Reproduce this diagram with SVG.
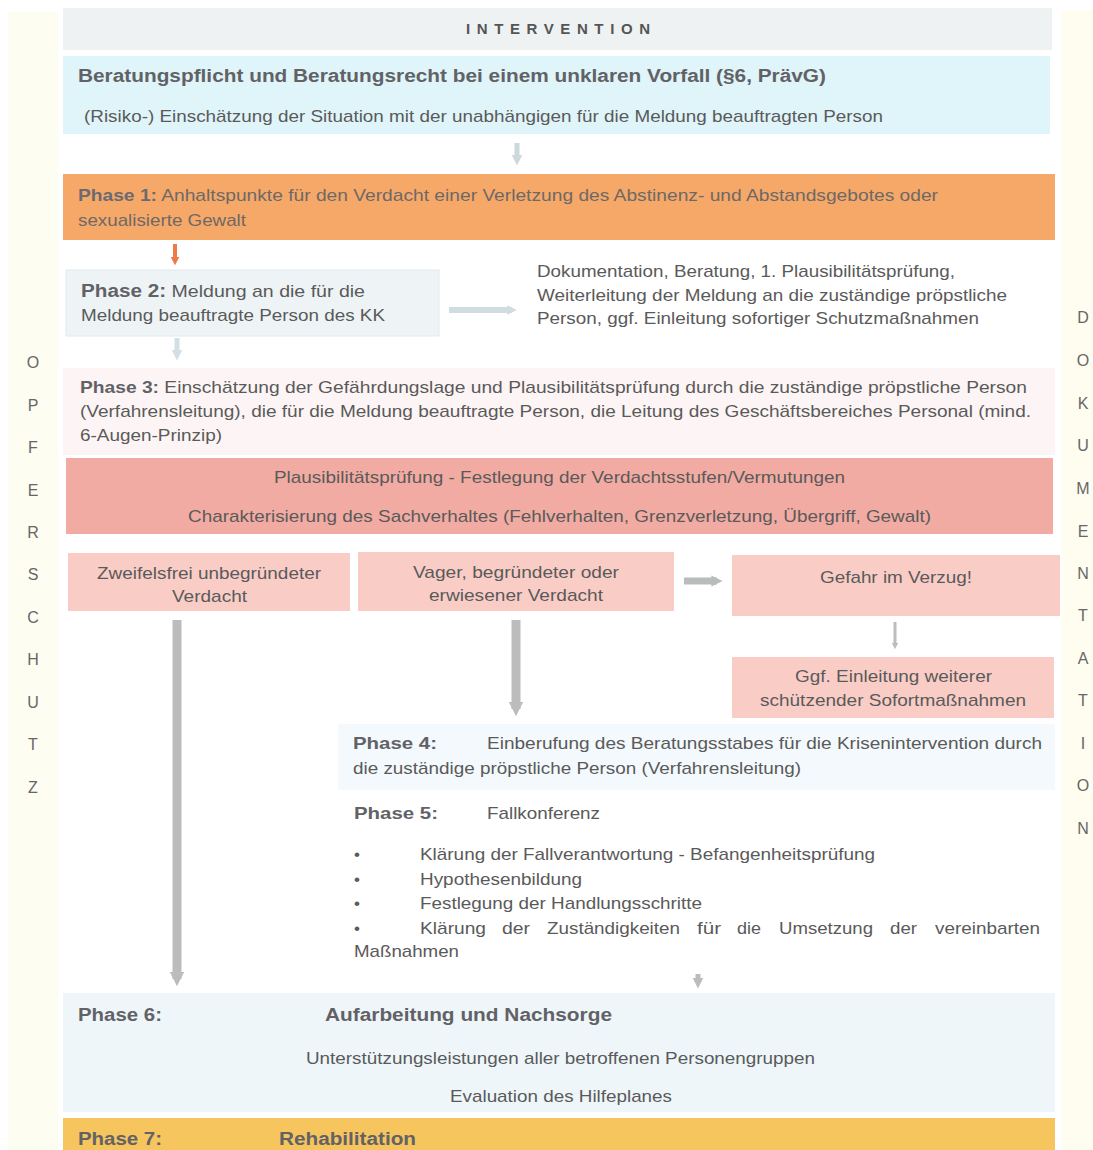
<svg xmlns="http://www.w3.org/2000/svg" width="1093" height="1150" viewBox="0 0 1093 1150">
<style>
text{font-family:"Liberation Sans",Arial,sans-serif;fill:#5a5a5a;font-size:17px}
.b{font-weight:bold;fill:#626266}
.side{font-size:16px;fill:#666;text-anchor:middle}
.pink{fill:#f9cdc6}
</style>
<defs>
<marker id="ah" viewBox="0 0 10 10" refX="5" refY="5" markerWidth="2.2" markerHeight="2.2" orient="auto" markerUnits="strokeWidth">
<path d="M0,0 L10,5 L0,10 z" fill="context-stroke"/>
</marker>
<marker id="ahw" viewBox="0 0 10 10" refX="5" refY="5" markerWidth="1.6" markerHeight="1.6" orient="auto" markerUnits="strokeWidth">
<path d="M0,0 L10,5 L0,10 z" fill="context-stroke"/>
</marker>
</defs>
<rect width="1093" height="1150" fill="#ffffff"/>
<g id="side-left">
<rect x="8" y="12" width="50" height="1138" fill="#fefdf2"/>
<text class="side" x="33" y="368">O</text>
<text class="side" x="33" y="411">P</text>
<text class="side" x="33" y="453">F</text>
<text class="side" x="33" y="496">E</text>
<text class="side" x="33" y="538">R</text>
<text class="side" x="33" y="580">S</text>
<text class="side" x="33" y="623">C</text>
<text class="side" x="33" y="665">H</text>
<text class="side" x="33" y="708">U</text>
<text class="side" x="33" y="750">T</text>
<text class="side" x="33" y="793">Z</text>
</g>
<g id="side-right">
<rect x="1062" y="10" width="31" height="1140" fill="#fefdf0"/>
<text class="side" x="1083" y="323">D</text>
<text class="side" x="1083" y="366">O</text>
<text class="side" x="1083" y="409">K</text>
<text class="side" x="1083" y="451">U</text>
<text class="side" x="1083" y="494">M</text>
<text class="side" x="1083" y="537">E</text>
<text class="side" x="1083" y="579">N</text>
<text class="side" x="1083" y="621">T</text>
<text class="side" x="1083" y="664">A</text>
<text class="side" x="1083" y="706">T</text>
<text class="side" x="1083" y="749">I</text>
<text class="side" x="1083" y="791">O</text>
<text class="side" x="1083" y="834">N</text>
</g>
<g id="header">
<rect x="63" y="8" width="989" height="42" fill="#eef2f3"/>
<text x="466" y="34" class="b" style="font-size:15px;fill:#555" textLength="184">INTERVENTION</text>
</g>
<g id="beratung">
<rect x="63" y="56" width="987" height="78" fill="#dff5fa"/>
<text x="78" y="82" class="b" style="font-size:18px" textLength="748" lengthAdjust="spacingAndGlyphs">Beratungspflicht und Beratungsrecht bei einem unklaren Vorfall (§6, PrävG)</text>
<text x="84" y="122" textLength="799" lengthAdjust="spacingAndGlyphs">(Risiko-) Einschätzung der Situation mit der unabhängigen für die Meldung beauftragten Person</text>
</g>
<g id="phase1">
<rect x="63" y="174" width="992" height="66" fill="#f6a868"/>
<text x="78" y="201" style="fill:#6e6866" textLength="860" lengthAdjust="spacingAndGlyphs"><tspan class="b" style="fill:#6a6a70">Phase 1:</tspan> Anhaltspunkte für den Verdacht einer Verletzung des Abstinenz- und Abstandsgebotes oder</text>
<text x="78" y="226" style="fill:#6e6866" textLength="168" lengthAdjust="spacingAndGlyphs">sexualisierte Gewalt</text>
</g>
<g id="phase2">
<rect x="66" y="270" width="373" height="66" fill="#eef4f6" stroke="#e2eaee" stroke-width="1"/>
<text x="81" y="297" textLength="284" lengthAdjust="spacingAndGlyphs"><tspan class="b" style="font-size:18px">Phase 2:</tspan>  Meldung an die für die</text>
<text x="81" y="321" textLength="304" lengthAdjust="spacingAndGlyphs">Meldung beauftragte Person des KK</text>
</g>
<g id="dokumentation">
<text x="537" y="277" textLength="418" lengthAdjust="spacingAndGlyphs">Dokumentation, Beratung, 1. Plausibilitätsprüfung,</text>
<text x="537" y="301" textLength="470" lengthAdjust="spacingAndGlyphs">Weiterleitung der Meldung an die zuständige pröpstliche</text>
<text x="537" y="324" textLength="442" lengthAdjust="spacingAndGlyphs">Person, ggf. Einleitung sofortiger Schutzmaßnahmen</text>
</g>
<g id="phase3">
<rect x="63" y="368" width="992" height="87" fill="#fdf5f5"/>
<text x="80" y="393" textLength="947" lengthAdjust="spacingAndGlyphs"><tspan class="b">Phase 3:</tspan> Einschätzung der Gefährdungslage  und Plausibilitätsprüfung durch die zuständige pröpstliche Person</text>
<text x="80" y="417" textLength="951" lengthAdjust="spacingAndGlyphs">(Verfahrensleitung), die  für die Meldung beauftragte Person, die Leitung des Geschäftsbereiches Personal (mind.</text>
<text x="80" y="441" textLength="142" lengthAdjust="spacingAndGlyphs">6-Augen-Prinzip)</text>
</g>
<g id="plausibilitaet">
<rect x="66" y="458" width="987" height="76" fill="#f2aba2"/>
<text x="274" y="483" textLength="571" lengthAdjust="spacingAndGlyphs">Plausibilitätsprüfung - Festlegung der Verdachtsstufen/Vermutungen</text>
<text x="188" y="522" textLength="743" lengthAdjust="spacingAndGlyphs">Charakterisierung des Sachverhaltes (Fehlverhalten, Grenzverletzung, Übergriff, Gewalt)</text>
</g>
<g id="unbegruendet">
<rect class="pink" x="68" y="553" width="282" height="58"/>
<text x="97" y="579" textLength="224" lengthAdjust="spacingAndGlyphs">Zweifelsfrei unbegründeter</text>
<text x="172" y="602" textLength="75" lengthAdjust="spacingAndGlyphs">Verdacht</text>
</g>
<g id="begruendet">
<rect class="pink" x="358" y="552" width="316" height="59"/>
<text x="413" y="578" textLength="206" lengthAdjust="spacingAndGlyphs">Vager, begründeter oder</text>
<text x="429" y="601" textLength="174" lengthAdjust="spacingAndGlyphs">erwiesener Verdacht</text>
</g>
<g id="gefahr">
<rect class="pink" x="732" y="555" width="328" height="61"/>
<text x="820" y="583" textLength="152" lengthAdjust="spacingAndGlyphs">Gefahr im Verzug!</text>
</g>
<g id="sofortmassnahmen">
<rect class="pink" x="732" y="657" width="322" height="61"/>
<text x="795" y="682" textLength="197" lengthAdjust="spacingAndGlyphs">Ggf. Einleitung weiterer</text>
<text x="760" y="706" textLength="266" lengthAdjust="spacingAndGlyphs">schützender Sofortmaßnahmen</text>
</g>
<g id="phase4">
<rect x="338" y="724" width="717" height="66" fill="#f3f9fc"/>
<text x="353" y="749" class="b" textLength="84" lengthAdjust="spacingAndGlyphs">Phase 4:</text>
<text x="487" y="749" textLength="555" lengthAdjust="spacingAndGlyphs">Einberufung des Beratungsstabes für die Krisenintervention durch</text>
<text x="353" y="774" textLength="448" lengthAdjust="spacingAndGlyphs">die zuständige pröpstliche Person (Verfahrensleitung)</text>
</g>
<g id="phase5">
<text x="354" y="819" class="b" textLength="84" lengthAdjust="spacingAndGlyphs">Phase 5:</text>
<text x="487" y="819" textLength="113" lengthAdjust="spacingAndGlyphs">Fallkonferenz</text>
<text x="354" y="860">•</text><text x="420" y="860" textLength="455" lengthAdjust="spacingAndGlyphs">Klärung der Fallverantwortung - Befangenheitsprüfung</text>
<text x="354" y="885">•</text><text x="420" y="885" textLength="162" lengthAdjust="spacingAndGlyphs">Hypothesenbildung</text>
<text x="354" y="909">•</text><text x="420" y="909" textLength="282" lengthAdjust="spacingAndGlyphs">Festlegung der Handlungsschritte</text>
<text x="354" y="934">•</text>
<text x="420" y="934" textLength="66" lengthAdjust="spacingAndGlyphs">Klärung</text>
<text x="502" y="934" textLength="28" lengthAdjust="spacingAndGlyphs">der</text>
<text x="547" y="934" textLength="133" lengthAdjust="spacingAndGlyphs">Zuständigkeiten</text>
<text x="697" y="934" textLength="24" lengthAdjust="spacingAndGlyphs">für</text>
<text x="737" y="934" textLength="24" lengthAdjust="spacingAndGlyphs">die</text>
<text x="779" y="934" textLength="94" lengthAdjust="spacingAndGlyphs">Umsetzung</text>
<text x="890" y="934" textLength="27" lengthAdjust="spacingAndGlyphs">der</text>
<text x="935" y="934" textLength="105" lengthAdjust="spacingAndGlyphs">vereinbarten</text>
<text x="354" y="957" textLength="105" lengthAdjust="spacingAndGlyphs">Maßnahmen</text>
</g>
<g id="phase6">
<rect x="63" y="993" width="992" height="119" fill="#eef6fa"/>
<text x="78" y="1021" class="b" style="font-size:18px" textLength="84" lengthAdjust="spacingAndGlyphs">Phase 6:</text>
<text x="325" y="1021" class="b" style="font-size:18px" textLength="287" lengthAdjust="spacingAndGlyphs">Aufarbeitung und Nachsorge</text>
<text x="306" y="1064" textLength="509" lengthAdjust="spacingAndGlyphs">Unterstützungsleistungen aller betroffenen Personengruppen</text>
<text x="450" y="1102" textLength="222" lengthAdjust="spacingAndGlyphs">Evaluation des Hilfeplanes</text>
</g>
<g id="phase7">
<rect x="63" y="1118" width="992" height="32" fill="#f6c55e"/>
<text x="78" y="1145" class="b" style="font-size:18px" textLength="84" lengthAdjust="spacingAndGlyphs">Phase 7:</text>
<text x="279" y="1145" class="b" style="font-size:18px" textLength="137" lengthAdjust="spacingAndGlyphs">Rehabilitation</text>
</g>
<g id="connectors" fill="none">
<line x1="517" y1="143" x2="517" y2="160" stroke="#cdd8dc" stroke-width="5" marker-end="url(#ah)"/>
<line x1="175" y1="244" x2="175" y2="261" stroke="#ee7a45" stroke-width="4" marker-end="url(#ah)"/>
<line x1="449" y1="310" x2="512" y2="310" stroke="#cfdde2" stroke-width="6" marker-end="url(#ahw)"/>
<line x1="177" y1="338" x2="177" y2="355" stroke="#d2dfe4" stroke-width="5" marker-end="url(#ah)"/>
<line x1="684" y1="581" x2="717" y2="581" stroke="#b9bcbc" stroke-width="7" marker-end="url(#ahw)"/>
<line x1="895" y1="622" x2="895" y2="646" stroke="#bdbdbd" stroke-width="3" marker-end="url(#ah)"/>
<line x1="177" y1="620" x2="177" y2="979" stroke="#bcbcbc" stroke-width="9" marker-end="url(#ahw)"/>
<line x1="516" y1="620" x2="516" y2="709" stroke="#bcbcbc" stroke-width="9" marker-end="url(#ahw)"/>
<line x1="698" y1="974" x2="698" y2="983" stroke="#bcbcbc" stroke-width="5" marker-end="url(#ah)"/>
</g>
</svg>
